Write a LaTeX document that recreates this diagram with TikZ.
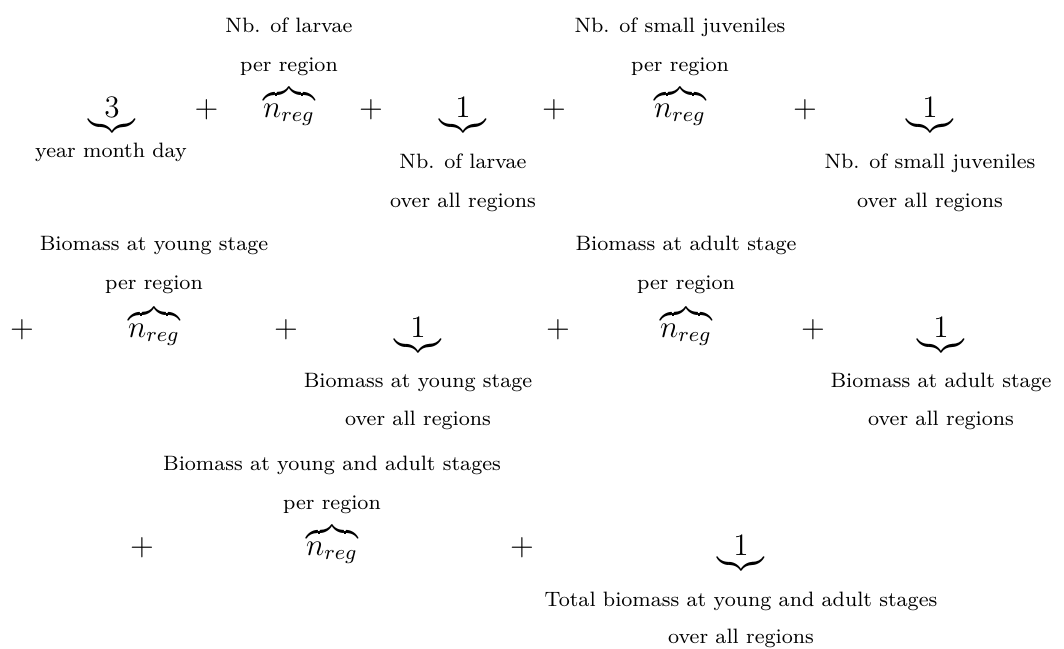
\documentclass[tikz,border=0pt]{standalone}
\begin{document}
\begin{tikzpicture}[x=0.3846pt,y=-0.3846pt,
  lbl/.style={anchor=base,inner sep=0pt,font=\fontsize{8}{10}\selectfont},
  mth/.style={anchor=base,inner sep=0pt,font=\fontsize{12}{14}\selectfont}]
\useasboundingbox (0,0) rectangle (1064,648);
% ---------- row 1 ----------
\node[mth] (t1) at (112,117) {$\underbrace{3}$};
\node[lbl] (t1a) at (111,157) {year month day};
\node[mth] (p1) at (206.5,117) {$+$};
\node[mth] (t2) at (289,117) {$\overbrace{n_{reg}}$};
\node[lbl] (t2a) at (289,32) {Nb. of larvae};
\node[lbl] (t2b) at (289,71) {per region};
\node[mth] (p2) at (371,117) {$+$};
\node[mth] (t3) at (463,117) {$\underbrace{1}$};
\node[lbl] (t3a) at (463,168) {Nb. of larvae};
\node[lbl] (t3b) at (463,207) {over all regions};
\node[mth] (p3) at (554,117) {$+$};
\node[mth] (t4) at (680,117) {$\overbrace{n_{reg}}$};
\node[lbl] (t4a) at (680,32) {Nb. of small juveniles};
\node[lbl] (t4b) at (680,71) {per region};
\node[mth] (p4) at (805,117) {$+$};
\node[mth] (t5) at (930,117) {$\underbrace{1}$};
\node[lbl] (t5a) at (930,168) {Nb. of small juveniles};
\node[lbl] (t5b) at (930,207) {over all regions};
% ---------- row 2 ----------
\node[mth] (p5) at (22,337) {$+$};
\node[mth] (t6) at (154,337) {$\overbrace{n_{reg}}$};
\node[lbl] (t6a) at (154,250) {Biomass at young stage};
\node[lbl] (t6b) at (154,289) {per region};
\node[mth] (p6) at (286,337) {$+$};
\node[mth] (t7) at (418,337) {$\underbrace{1}$};
\node[lbl] (t7a) at (418,387) {Biomass at young stage};
\node[lbl] (t7b) at (418,425) {over all regions};
\node[mth] (p7) at (558,337) {$+$};
\node[mth] (t8) at (686,337) {$\overbrace{n_{reg}}$};
\node[lbl] (t8a) at (686,250) {Biomass at adult stage};
\node[lbl] (t8b) at (686,289) {per region};
\node[mth] (p8) at (813,337) {$+$};
\node[mth] (t9) at (941,337) {$\underbrace{1}$};
\node[lbl] (t9a) at (941,387) {Biomass at adult stage};
\node[lbl] (t9b) at (941,425) {over all regions};
% ---------- row 3 ----------
\node[mth] (p9) at (142,555) {$+$};
\node[mth] (t10) at (332,555) {$\overbrace{n_{reg}}$};
\node[lbl] (t10a) at (332,470) {Biomass at young and adult stages};
\node[lbl] (t10b) at (332,509) {per region};
\node[mth] (p10) at (522,555) {$+$};
\node[mth] (t11) at (741,555) {$\underbrace{1}$};
\node[lbl] (t11a) at (741,606) {Total biomass at young and adult stages};
\node[lbl] (t11b) at (741,643) {over all regions};
\end{tikzpicture}
\end{document}
